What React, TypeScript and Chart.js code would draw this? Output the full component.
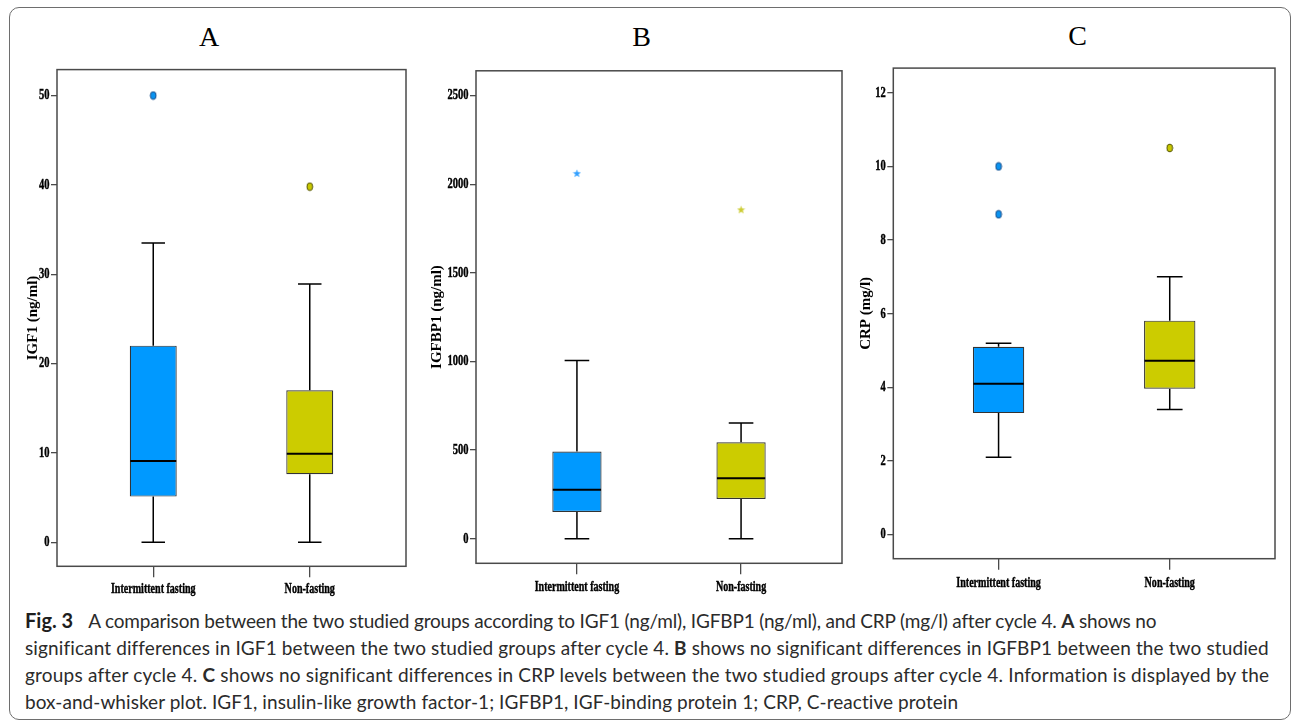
import React, { useEffect, useRef } from "react";
import { Chart, registerables } from "chart.js";

Chart.register(...registerables);

const SERIF = "'Liberation Serif', 'Times New Roman', serif";

// ---- categories ----
const groups = ["Intermittent fasting", "Non-fasting"];

// ---- Panel A: IGF1 (ng/ml) ----
const igf1Min = [0, 0];
const igf1Q1 = [5.1, 7.6];
const igf1Median = [9.1, 9.9];
const igf1Q3 = [22.0, 17.0];
const igf1Max = [33.5, 28.9];
const igf1Outliers = [[50.0], [39.8]];
const igf1Ticks = [0, 10, 20, 30, 40, 50];

// ---- Panel B: IGFBP1 (ng/ml) ----
const igfbp1Min = [0, 0];
const igfbp1Q1 = [151, 224];
const igfbp1Median = [276, 341];
const igfbp1Q3 = [492, 544];
const igfbp1Max = [1006, 652];
const igfbp1Extremes = [[2061], [1856]];
const igfbp1Ticks = [0, 500, 1000, 1500, 2000, 2500];

// ---- Panel C: CRP (mg/l) ----
const crpMin = [2.1, 3.4];
const crpQ1 = [3.3, 3.96];
const crpMedian = [4.1, 4.72];
const crpQ3 = [5.1, 5.81];
const crpMax = [5.2, 7.0];
const crpOutliers = [[10.0, 8.7], [10.5]];
const crpTicks = [0, 2, 4, 6, 8, 10, 12];

const panelTitles = ["A", "B", "C"];
const axisTitles = ["IGF1 (ng/ml)", "IGFBP1 (ng/ml)", "CRP (mg/l)"];

// ---- styles ----
const boxColors = ["#0099ff", "#cccc00"];
const dotFill = ["#0a93f0", "#c8c800"];
const dotStroke = ["#1b4f8c", "#55550a"];
const starColors = ["#33a0ff", "#cccc33"];
const FRAME = "#4a4a4a";

type Panel = {
  title: string;
  yTitle: string;
  min: number[];
  q1: number[];
  median: number[];
  q3: number[];
  max: number[];
  outliers: number[][];
  marker: "dot" | "star";
  yMin: number;
  yMax: number;
  ticks: number[];
  chartLeft: number;
  chartRight: number;
  chartTop: number;
  chartBottom: number;
  canvasLeft: number;
  yTitleX: number;
  xLabelY: number;
  titleX: number;
  titleY: number;
};

const panels: Panel[] = [
  {
    title: panelTitles[0], yTitle: axisTitles[0],
    min: igf1Min, q1: igf1Q1, median: igf1Median, q3: igf1Q3, max: igf1Max,
    outliers: igf1Outliers, marker: "dot", yMin: -2.7, yMax: 52.9, ticks: igf1Ticks,
    chartLeft: 57, chartRight: 407, chartTop: 69.6, chartBottom: 566.3,
    canvasLeft: 10, yTitleX: 33, xLabelY: 589, titleX: 209, titleY: 36.5,
  },
  {
    title: panelTitles[1], yTitle: axisTitles[1],
    min: igfbp1Min, q1: igfbp1Q1, median: igfbp1Median, q3: igfbp1Q3, max: igfbp1Max,
    outliers: igfbp1Extremes, marker: "star", yMin: -139, yMax: 2640, ticks: igfbp1Ticks,
    chartLeft: 476, chartRight: 843, chartTop: 70.8, chartBottom: 563.3,
    canvasLeft: 426, yTitleX: 437.5, xLabelY: 587, titleX: 641.7, titleY: 37,
  },
  {
    title: panelTitles[2], yTitle: axisTitles[2],
    min: crpMin, q1: crpQ1, median: crpMedian, q3: crpQ3, max: crpMax,
    outliers: crpOutliers, marker: "dot", yMin: -0.655, yMax: 12.67, ticks: crpTicks,
    chartLeft: 893.3, chartRight: 1275.3, chartTop: 68.1, chartBottom: 558.7,
    canvasLeft: 853, yTitleX: 866, xLabelY: 583, titleX: 1077.7, titleY: 36,
  },
];

function makeDot(fill: string, stroke: string) {
  const c = document.createElement("canvas");
  c.width = 8;
  c.height = 10;
  const g = c.getContext("2d")!;
  g.beginPath();
  g.ellipse(4, 5, 2.9, 3.9, 0, 0, Math.PI * 2);
  g.fillStyle = fill;
  g.fill();
  g.lineWidth = 1;
  g.strokeStyle = stroke;
  g.stroke();
  return c;
}

function makeStar(fill: string) {
  const c = document.createElement("canvas");
  c.width = 9;
  c.height = 9;
  const g = c.getContext("2d")!;
  g.beginPath();
  for (let k = 0; k < 10; k++) {
    const r = k % 2 === 0 ? 4.3 : 1.8;
    const a = -Math.PI / 2 + (k * Math.PI) / 5;
    const px = 4.5 + r * Math.cos(a);
    const py = 4.8 + r * Math.sin(a);
    if (k === 0) g.moveTo(px, py);
    else g.lineTo(px, py);
  }
  g.closePath();
  g.fillStyle = fill;
  g.fill();
  return c;
}

const T = 40;
const H = 560;
const XH = 30;
const X_TICK_LEN = 11;
const Y_TICK_LEN = 6;
const X_FONT = 15;
const X_SQUEEZE = 0.67;
const Y_FONT = 15;
const Y_SQUEEZE = 0.7;
const YT_FONT = 15;

function boxPlugin(p: Panel, canvasTop: number) {
  return {
    id: "boxWhiskers",
    beforeDatasetsDraw(chart: any) {
      const { ctx, scales } = chart;
      const x = scales.x, y = scales.y;
      const meta = chart.getDatasetMeta(0);
      ctx.save();
      ctx.strokeStyle = "#000";
      ctx.lineWidth = 1.5;
      groups.forEach((_, i) => {
        const bar = meta.data[i];
        const cx = x.getPixelForValue(i);
        const capHalf = (bar.width / 2) * 0.5;
        const yMax = y.getPixelForValue(p.max[i]);
        const yQ3 = y.getPixelForValue(p.q3[i]);
        const yQ1 = y.getPixelForValue(p.q1[i]);
        const yMinP = y.getPixelForValue(p.min[i]);
        ctx.beginPath();
        ctx.moveTo(cx, yQ3);
        ctx.lineTo(cx, yMax);
        ctx.moveTo(cx - capHalf, yMax);
        ctx.lineTo(cx + capHalf, yMax);
        ctx.moveTo(cx, yQ1);
        ctx.lineTo(cx, yMinP);
        ctx.moveTo(cx - capHalf, yMinP);
        ctx.lineTo(cx + capHalf, yMinP);
        ctx.stroke();
      });
      ctx.restore();
    },
    afterDatasetsDraw(chart: any) {
      const { ctx, scales } = chart;
      const y = scales.y;
      const meta = chart.getDatasetMeta(0);
      ctx.save();
      ctx.strokeStyle = "#000";
      ctx.lineWidth = 2;
      groups.forEach((_, i) => {
        const bar = meta.data[i];
        const ym = y.getPixelForValue(p.median[i]);
        ctx.beginPath();
        ctx.moveTo(bar.x - bar.width / 2 + 0.5, ym);
        ctx.lineTo(bar.x + bar.width / 2 - 0.5, ym);
        ctx.stroke();
      });
      ctx.restore();
    },
    afterDraw(chart: any) {
      const { ctx, chartArea, scales } = chart;
      ctx.save();
      ctx.strokeStyle = FRAME;
      ctx.lineWidth = 1.5;
      ctx.strokeRect(
        chartArea.left,
        chartArea.top,
        chartArea.right - chartArea.left,
        chartArea.bottom - chartArea.top
      );
      // tick labels (SPSS-style condensed bold serif)
      ctx.fillStyle = "#000";
      ctx.strokeStyle = "#000";
      ctx.lineWidth = 0.45;
      ctx.textBaseline = "middle";
      // x axis
      ctx.font = `bold ${X_FONT}px ${SERIF}`;
      ctx.textAlign = "center";
      const xs = scales.x;
      xs.ticks.forEach((t: any) => {
        const label = groups[t.value];
        if (label === undefined) return;
        const px = xs.getPixelForValue(t.value);
        ctx.save();
        ctx.translate(px, p.xLabelY - canvasTop);
        ctx.scale(X_SQUEEZE, 1);
        ctx.fillText(label, 0, 0);
        ctx.strokeText(label, 0, 0);
        ctx.restore();
      });
      // y axis
      ctx.font = `bold ${Y_FONT}px ${SERIF}`;
      ctx.textAlign = "right";
      const ys = scales.y;
      ys.ticks.forEach((t: any) => {
        const py = ys.getPixelForValue(t.value);
        const label = String(t.value);
        ctx.save();
        ctx.translate(chartArea.left - Y_TICK_LEN - 1.5, py);
        ctx.scale(Y_SQUEEZE, 1);
        ctx.fillText(label, 0, 0);
        ctx.strokeText(label, 0, 0);
        ctx.restore();
      });
      ctx.restore();
    },
  };
}

function PanelChart({ p }: { p: Panel }) {
  const ref = useRef<HTMLCanvasElement>(null);
  const L = p.canvasLeft;
  const W = Math.ceil(p.chartRight + 4 - L);
  useEffect(() => {
    const canvas = ref.current!;
    const yw = p.chartLeft - L;
    const yTitlePad = p.yTitleX - L - (YT_FONT * 1.2) / 2;
    const datasets: any[] = [
      {
        type: "bar",
        data: groups.map((_, i) => ({ x: i, y: [p.q1[i], p.q3[i]] })),
        backgroundColor: boxColors,
        borderColor: "#333333",
        borderWidth: 1.2,
        borderSkipped: false,
        barPercentage: 0.3,
        categoryPercentage: 1,
      },
    ];
    groups.forEach((_, i) => {
      datasets.push({
        type: "scatter",
        data: p.outliers[i].map((v) => ({ x: i, y: v })),
        pointStyle:
          p.marker === "star"
            ? makeStar(starColors[i])
            : makeDot(dotFill[i], dotStroke[i]),
        pointRadius: 4,
        showLine: false,
      });
    });
    const chart = new Chart(canvas, {
      type: "bar",
      data: { datasets },
      options: {
        responsive: false,
        animation: false,
        devicePixelRatio: 1,
        events: [],
        layout: {
          padding: {
            left: 0,
            top: p.chartTop - T,
            right: L + W - p.chartRight,
            bottom: T + H - p.chartBottom - XH,
          },
        },
        plugins: {
          legend: { display: false },
          tooltip: { enabled: false },
          title: { display: false },
        },
        scales: {
          x: {
            type: "linear",
            min: -0.615,
            max: 1.615,
            offset: false,
            grid: {
              offset: false,
              drawOnChartArea: false,
              drawTicks: true,
              tickLength: X_TICK_LEN,
              color: FRAME,
              lineWidth: 1.3,
            },
            border: { display: false },
            ticks: {
              display: false,
              callback: (v: any) => groups[v] ?? "",
              autoSkip: false,
            },
            afterBuildTicks: (s: any) => {
              s.ticks = groups.map((_, i) => ({ value: i }));
            },
            afterFit: (s: any) => {
              s.height = XH;
            },
          },
          y: {
            type: "linear",
            min: p.yMin,
            max: p.yMax,
            grid: {
              drawOnChartArea: false,
              drawTicks: true,
              tickLength: Y_TICK_LEN,
              color: FRAME,
              lineWidth: 1.3,
            },
            border: { display: false },
            ticks: {
              display: false,
              callback: (v: any) => String(v),
              autoSkip: false,
            },
            afterBuildTicks: (s: any) => {
              s.ticks = p.ticks.map((v) => ({ value: v }));
            },
            afterFit: (s: any) => {
              s.width = yw;
            },
            title: {
              display: true,
              text: p.yTitle,
              color: "#000",
              font: { family: SERIF, weight: "bold", size: YT_FONT },
              padding: { top: yTitlePad, bottom: 0 },
            },
          },
        },
      } as any,
      plugins: [boxPlugin(p, T)],
    });
    return () => chart.destroy();
  }, []);
  return (
    <canvas
      ref={ref}
      width={W}
      height={H}
      style={{ position: "absolute", left: L, top: T, width: W, height: H }}
    />
  );
}

export default function App() {
  useEffect(() => {
    document.body.style.margin = "0";
  }, []);
  const captionFont = "Lato, 'Open Sans', sans-serif";
  return (
    <div
      style={{
        position: "absolute",
        left: 0,
        top: 0,
        width: 1293,
        height: 722,
        overflow: "hidden",
        background: "#fff",
      }}
    >
      <div
        style={{
          position: "absolute",
          left: 9,
          top: 7,
          width: 1282,
          height: 713,
          border: "1.5px solid #6e6e6e",
          borderRadius: 10,
          boxSizing: "border-box",
        }}
      />
      {panels.map((p, k) => (
        <div
          key={"t" + k}
          style={{
            position: "absolute",
            left: p.titleX - 30,
            top: p.titleY - 16,
            width: 60,
            height: 32,
            lineHeight: "32px",
            textAlign: "center",
            fontFamily: SERIF,
            fontSize: 28,
            color: "#000",
          }}
        >
          {p.title}
        </div>
      ))}
      {panels.map((p, k) => (
        <PanelChart key={"c" + k} p={p} />
      ))}
      <div
        style={{
          position: "absolute",
          left: 25,
          top: 607,
          fontFamily: captionFont,
          fontSize: 19,
          lineHeight: "27px",
          color: "#2b2b2b",
          whiteSpace: "nowrap",
        }}
      >
        <div style={{ letterSpacing: "-0.17px" }}>
          <span style={{ fontWeight: 700, fontSize: 20, letterSpacing: "0px", marginRight: 15, color: "#1e1e1e" }}>Fig. 3</span>A comparison between the two studied groups according to IGF1 (ng/ml), IGFBP1 (ng/ml), and CRP (mg/l) after cycle 4. <b>A</b> shows no
        </div>
        <div style={{ letterSpacing: "0.12px" }}>
          significant differences in IGF1 between the two studied groups after cycle 4. <b>B</b> shows no significant differences in IGFBP1 between the two studied
        </div>
        <div style={{ letterSpacing: "0.2px" }}>
          groups after cycle 4. <b>C</b> shows no significant differences in CRP levels between the two studied groups after cycle 4. Information is displayed by the
        </div>
        <div style={{ letterSpacing: "0.055px" }}>
          box-and-whisker plot. IGF1, insulin-like growth factor-1; IGFBP1, IGF-binding protein 1; CRP, C-reactive protein
        </div>
      </div>
    </div>
  );
}
